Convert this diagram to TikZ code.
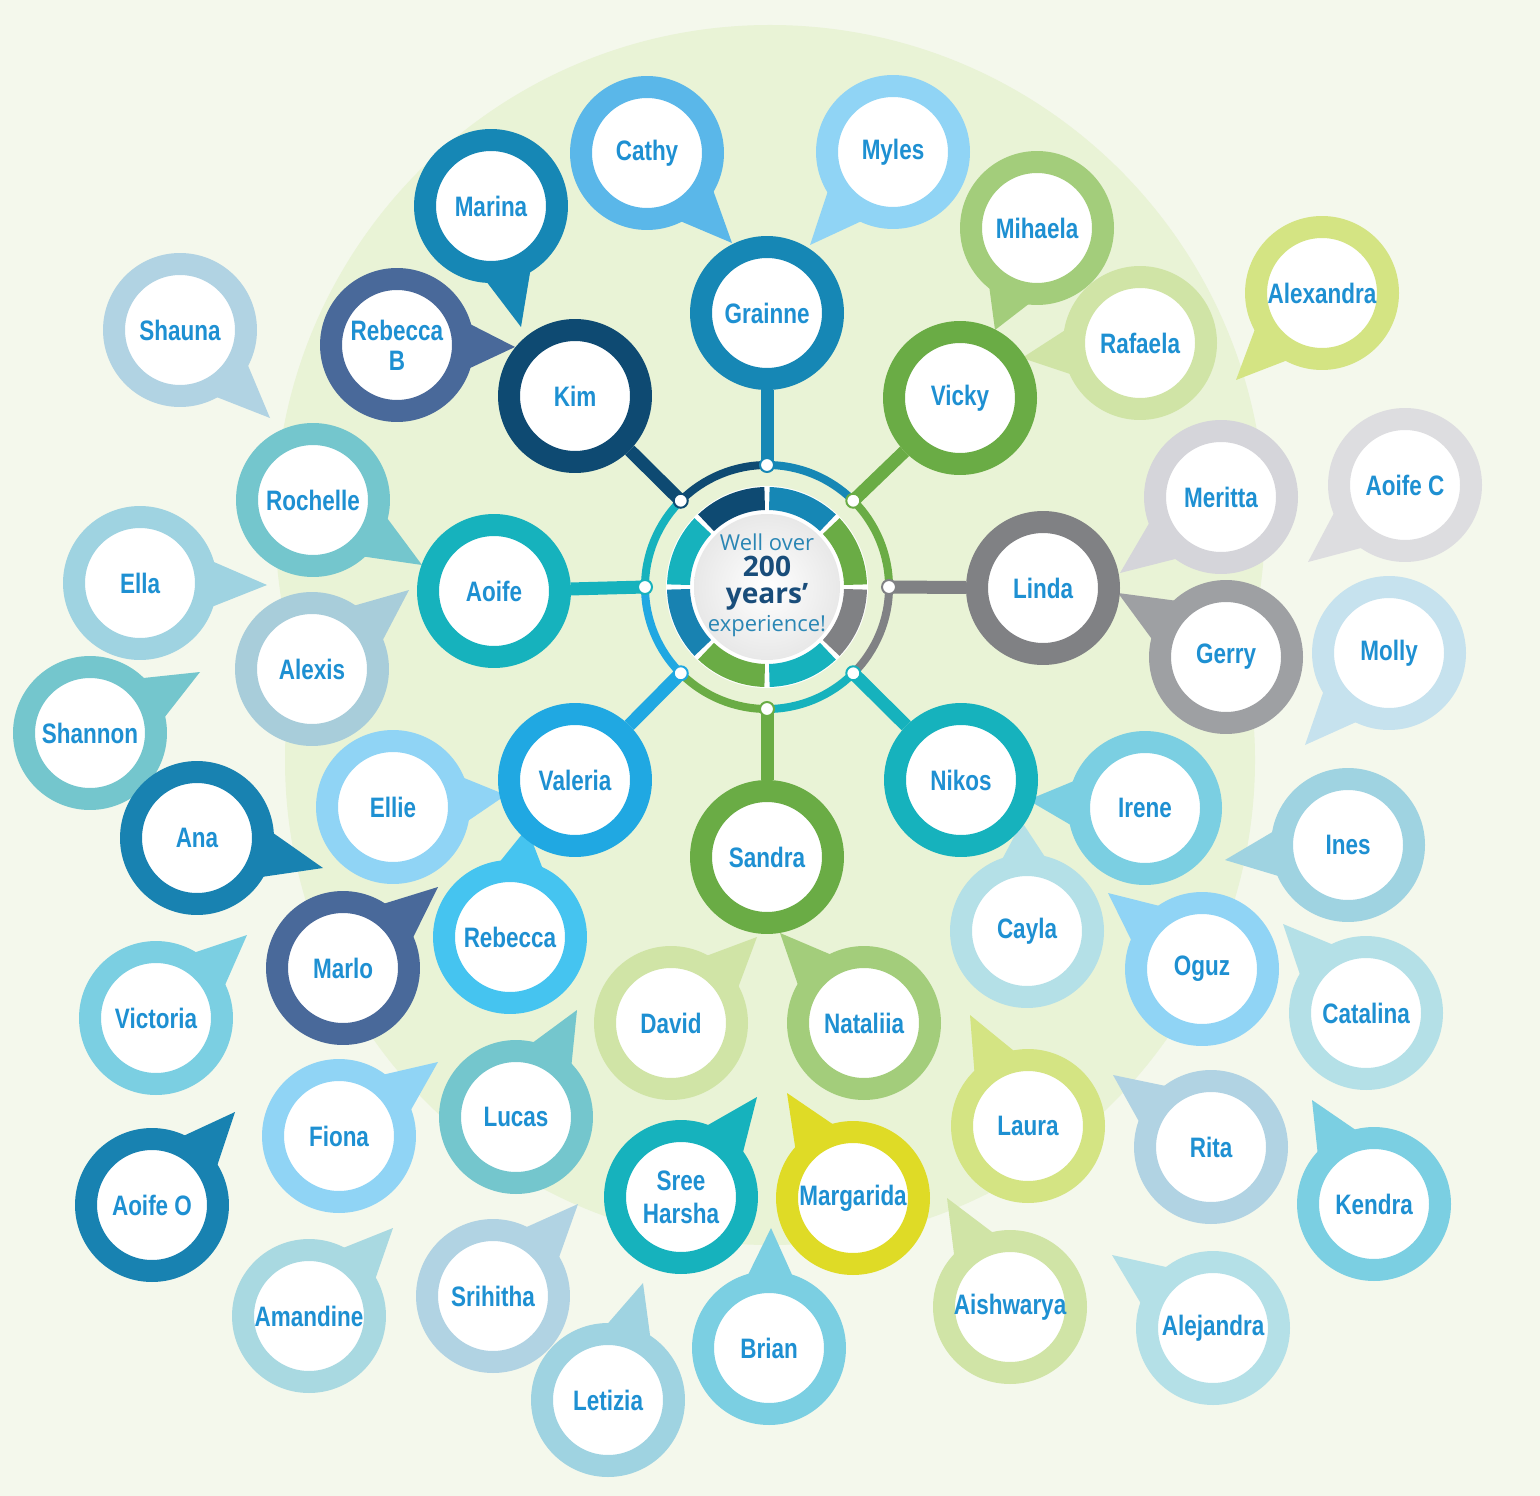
\documentclass[tikz,border=0pt]{standalone}
\usepackage{fontspec}
\newfontfamily\namefont[FakeStretch=0.8]{Liberation Sans}
\newfontfamily\centerfont{Open Sans}
\usetikzlibrary{calc}

\definecolor{bgcol}{HTML}{F4F8EC}
\definecolor{blobcol}{HTML}{E9F3D6}
\definecolor{namecol}{HTML}{1E90D2}
\definecolor{wellcol}{HTML}{2A86B4}
\definecolor{yearcol}{HTML}{194D7A}
\definecolor{navy}{HTML}{0E4A72}
\definecolor{blueA}{HTML}{1687B5}
\definecolor{blueB}{HTML}{1882B1}
\definecolor{slate}{HTML}{49699A}
\definecolor{skyA}{HTML}{5AB7E9}
\definecolor{skyB}{HTML}{90D4F5}
\definecolor{skyC}{HTML}{20A8E2}
\definecolor{skyD}{HTML}{45C4F0}
\definecolor{teal}{HTML}{16B2BD}
\definecolor{tealL}{HTML}{74C6CD}
\definecolor{cyanL}{HTML}{7BCFE2}
\definecolor{paleA}{HTML}{B1D3E3}
\definecolor{paleB}{HTML}{A8CDDA}
\definecolor{paleC}{HTML}{9FD3E1}
\definecolor{paleD}{HTML}{A9D9E1}
\definecolor{paleE}{HTML}{B4E0E7}
\definecolor{paleF}{HTML}{C6E2EE}
\definecolor{green}{HTML}{6AAC45}
\definecolor{greenL}{HTML}{A3CD7B}
\definecolor{greenP}{HTML}{D0E4A6}
\definecolor{yellowG}{HTML}{D4E483}
\definecolor{yellow}{HTML}{DFDB26}
\definecolor{grey}{HTML}{808184}
\definecolor{greyM}{HTML}{9EA0A3}
\definecolor{greyL}{HTML}{D5D5DA}
\definecolor{greyP}{HTML}{DDDDE0}

\tikzset{
  bubble/.style={circle, draw=#1, fill=white, line width=0.44cm, minimum size=2.64cm,
    inner sep=0pt, align=center, text=namecol,
    font=\namefont\bfseries\fontsize{16}{19}\selectfont},
  stem/.style={draw=#1, line width=0.26cm},
  ring/.style={draw=#1, line width=0.16cm},
  dot/.style={circle, fill=white, draw=#1, line width=0.04cm, minimum size=0.28cm, inner sep=0pt},
  centertext/.style={inner sep=0pt, text=wellcol, font=\centerfont\fontsize{12.5}{12.5}\selectfont},
  centerbold/.style={inner sep=0pt, text=yearcol, font=\centerfont\bfseries\fontsize{16}{16}\selectfont},
}
\newcommand{\tail}[3]{\fill[#2] ($(#1.center)!1.44cm!20:(#3)$) -- (#3) -- ($(#1.center)!1.44cm!-20:(#3)$) -- cycle;}
\newcommand{\segment}[3]{\fill[#1] (#2:77) arc[start angle=#2, end angle=#3, radius=77] -- (#3:100) arc[start angle=#3, end angle=#2, radius=100] -- cycle;}

\begin{document}
\begin{tikzpicture}[x=0.02cm, y=-0.02cm]
\fill[bgcol] (0,0) rectangle (1540,1496);
\useasboundingbox (0,0) rectangle (1540,1496);
% background blob
\fill[blobcol] (770,520) circle[radius=495];
\fill[blobcol] (770,760) circle[radius=485];

% outer bubbles
\node[bubble=skyA] (cathy) at (647,153) {Cathy};
\tail{cathy}{skyA}{732,243}
\node[bubble=skyB] (myles) at (893,152) {Myles};
\tail{myles}{skyB}{810,245}
\node[bubble=blueA] (marina) at (491,206) {Marina};
\tail{marina}{blueA}{521,327}
\node[bubble=greenL] (mihaela) at (1037,228) {Mihaela};
\tail{mihaela}{greenL}{995,330}
\node[bubble=yellowG] (alexandra) at (1322,293) {Alexandra};
\tail{alexandra}{yellowG}{1236,380}
\node[bubble=paleA] (shauna) at (180,330) {Shauna};
\tail{shauna}{paleA}{270,418}
\node[bubble=slate] (rebeccab) at (397,345) {Rebecca\\[-2pt]B};
\tail{rebeccab}{slate}{515,347}
\node[bubble=greenP] (rafaela) at (1140,343) {Rafaela};
\tail{rafaela}{greenP}{1022,358}
\node[bubble=greyL] (meritta) at (1221,497) {Meritta};
\tail{meritta}{greyL}{1120,573}
\node[bubble=greyP] (aoifec) at (1405,485) {Aoife C};
\tail{aoifec}{greyP}{1308,562}
\node[bubble=greyM] (gerry) at (1226,657) {Gerry};
\tail{gerry}{greyM}{1118,593}
\node[bubble=paleF] (molly) at (1389,653) {Molly};
\tail{molly}{paleF}{1305,745}
\node[bubble=tealL] (rochelle) at (313,500) {Rochelle};
\tail{rochelle}{tealL}{422,565}
\node[bubble=paleC] (ella) at (140,583) {Ella};
\tail{ella}{paleC}{267,585}
\node[bubble=paleB] (alexis) at (312,669) {Alexis};
\tail{alexis}{paleB}{409,590}
\node[bubble=tealL] (shannon) at (90,733) {Shannon};
\tail{shannon}{tealL}{200,672}
\node[bubble=cyanL] (irene) at (1145,808) {Irene};
\tail{irene}{cyanL}{1028,800}
\node[bubble=paleC] (ines) at (1348,845) {Ines};
\tail{ines}{paleC}{1225,860}
\node[bubble=skyB] (ellie) at (393,807) {Ellie};
\tail{ellie}{skyB}{506,795}
\node[bubble=blueB] (ana) at (197,838) {Ana};
\tail{ana}{blueB}{323,868}
\node[bubble=skyD] (rebecca) at (510,937) {Rebecca};
\tail{rebecca}{skyD}{527,828}
\node[bubble=slate] (marlo) at (343,968) {Marlo};
\tail{marlo}{slate}{438,887}
\node[bubble=paleE] (cayla) at (1027,931) {Cayla};
\tail{cayla}{paleE}{1022,822}
\node[bubble=skyB] (oguz) at (1202,969) {Oguz};
\tail{oguz}{skyB}{1108,893}
\node[bubble=paleE] (catalina) at (1366,1013) {Catalina};
\tail{catalina}{paleE}{1283,924}
\node[bubble=cyanL] (victoria) at (156,1018) {Victoria};
\tail{victoria}{cyanL}{247,935}
\node[bubble=greenP] (david) at (671,1023) {David};
\tail{david}{greenP}{757,937}
\node[bubble=greenL] (nataliia) at (864,1023) {Nataliia};
\tail{nataliia}{greenL}{780,933}
\node[bubble=yellowG] (laura) at (1028,1126) {Laura};
\tail{laura}{yellowG}{970,1015}
\node[bubble=skyB] (fiona) at (339,1136) {Fiona};
\tail{fiona}{skyB}{438,1062}
\node[bubble=tealL] (lucas) at (516,1117) {Lucas};
\tail{lucas}{tealL}{577,1010}
\node[bubble=teal] (sree) at (681,1197) {Sree\\Harsha};
\tail{sree}{teal}{757,1097}
\node[bubble=yellow] (margarida) at (853,1198) {Margarida};
\tail{margarida}{yellow}{787,1093}
\node[bubble=paleA] (rita) at (1211,1147) {Rita};
\tail{rita}{paleA}{1113,1075}
\node[bubble=cyanL] (kendra) at (1374,1204) {Kendra};
\tail{kendra}{cyanL}{1312,1100}
\node[bubble=blueB] (aoifeo) at (152,1205) {Aoife O};
\tail{aoifeo}{blueB}{235,1112}
\node[bubble=paleD] (amandine) at (309,1316) {Amandine};
\tail{amandine}{paleD}{393,1228}
\node[bubble=paleA] (srihitha) at (493,1296) {Srihitha};
\tail{srihitha}{paleA}{578,1204}
\node[bubble=paleC] (letizia) at (608,1400) {Letizia};
\tail{letizia}{paleC}{643,1283}
\node[bubble=cyanL] (brian) at (769,1348) {Brian};
\tail{brian}{cyanL}{771,1228}
\node[bubble=greenP] (aishwarya) at (1010,1307) {Aishwarya};
\tail{aishwarya}{greenP}{947,1198}
\node[bubble=paleE] (alejandra) at (1213,1328) {Alejandra};
\tail{alejandra}{paleE}{1112,1255}

% centre ring
\begin{scope}[shift={(767,587)}, yscale=-1]
  \draw[ring=navy] (135:122) arc[start angle=135, end angle=90, radius=122];
  \draw[ring=blueA] (90:122) arc[start angle=90, end angle=45, radius=122];
  \draw[ring=green] (45:122) arc[start angle=45, end angle=0, radius=122];
  \draw[ring=grey] (0:122) arc[start angle=0, end angle=-45, radius=122];
  \draw[ring=teal] (-45:122) arc[start angle=-45, end angle=-90, radius=122];
  \draw[ring=green] (-90:122) arc[start angle=-90, end angle=-135, radius=122];
  \draw[ring=skyC] (-135:122) arc[start angle=-135, end angle=-180, radius=122];
  \draw[ring=teal] (180:122) arc[start angle=180, end angle=135, radius=122];
  \fill[white] (0,0) circle[radius=101];
  \segment{navy}{91.5}{133.5}
  \segment{blueA}{46.5}{88.5}
  \segment{green}{1.5}{43.5}
  \segment{grey}{-43.5}{-1.5}
  \segment{teal}{-88.5}{-46.5}
  \segment{green}{-133.5}{-91.5}
  \segment{blueB}{181.5}{223.5}
  \segment{teal}{136.5}{178.5}
  \shade[inner color=white, outer color=black!9] (0,0) circle[radius=73];
  \coordinate (dkim) at (135:122);
  \coordinate (dgrainne) at (90:122);
  \coordinate (dvicky) at (45:122);
  \coordinate (dlinda) at (0:122);
  \coordinate (dnikos) at (-45:122);
  \coordinate (dsandra) at (-90:122);
  \coordinate (dvaleria) at (-135:122);
  \coordinate (daoife) at (180:122);
\end{scope}
\node[centertext] (well) at (767,542) {Well over};
\node[centerbold] (twohundred) at (767,566) {200};
\node[centerbold] (years) at (767,597) {years’};
\node[centertext] (experience) at (767,626) {experience!};

% main bubbles
\node[bubble=navy] (kim) at (575,396) {Kim};
\node[bubble=blueA] (grainne) at (767,313) {Grainne};
\node[bubble=green] (vicky) at (960,398) {Vicky};
\node[bubble=grey] (linda) at (1043,588) {Linda};
\node[bubble=teal] (nikos) at (961,780) {Nikos};
\node[bubble=green] (sandra) at (767,857) {Sandra};
\node[bubble=skyC] (valeria) at (575,780) {Valeria};
\node[bubble=teal] (aoife) at (494,591) {Aoife};
\draw[stem=navy] (dkim) -- (kim);
\draw[stem=blueA] (dgrainne) -- (grainne);
\draw[stem=green] (dvicky) -- (vicky);
\draw[stem=grey] (dlinda) -- (linda);
\draw[stem=teal] (dnikos) -- (nikos);
\draw[stem=green] (dsandra) -- (sandra);
\draw[stem=skyC] (dvaleria) -- (valeria);
\draw[stem=teal] (daoife) -- (aoife);
\node[dot=navy] at (dkim) {};
\node[dot=blueA] at (dgrainne) {};
\node[dot=green] at (dvicky) {};
\node[dot=grey] at (dlinda) {};
\node[dot=teal] at (dnikos) {};
\node[dot=green] at (dsandra) {};
\node[dot=skyC] at (dvaleria) {};
\node[dot=teal] at (daoife) {};
\end{tikzpicture}
\end{document}
